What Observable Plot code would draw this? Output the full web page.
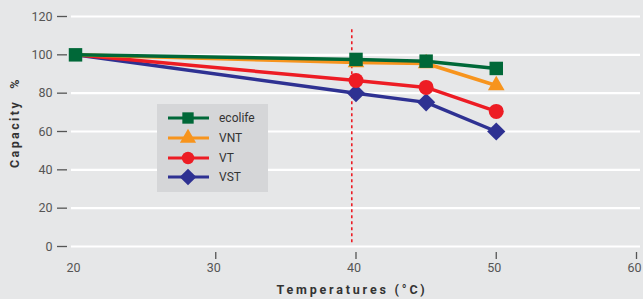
<!DOCTYPE html>
<html><head><meta charset="utf-8">
<script src="https://cdn.jsdelivr.net/npm/d3@7"></script>
<script src="https://cdn.jsdelivr.net/npm/@observablehq/plot@0.6"></script>
<style>
body{margin:0;background:#e6e7e8;}
</style></head><body><div id="chart"></div>
<script>
const temps = [20, 40, 45, 50];
const seriesNames = ["ecolife", "VNT", "VT", "VST"];
const ecolife = [100, 97.6, 96.7, 92.9];
const vnt = [100, 96, 95.5, 84];
const vt = [100, 86.6, 83, 70.5];
const vst = [100, 80, 75.2, 60];
const values = [ecolife, vnt, vt, vst];
const colors = ["#006838", "#f7941d", "#ed1c24", "#2e3192"];
const symbols = ["square", "triangle", "circle", "diamond2"];
const yTicks = [0, 20, 40, 60, 80, 100, 120];
const xTicks = [20, 30, 40, 50, 60];
const xTickMarks = [30, 40, 50, 60];
const markerTemp = 39.7;
const xTitle = "Temperatures (°C)";
const yTitle = "Capacity  %";

const rs = [7.6, 6.2, 7.5, 8.2];
const data = [];
seriesNames.forEach((s, i) => temps.forEach((t, j) => data.push({series: s, t, v: values[i][j]})));

const seriesMarks = [];
for (let i = seriesNames.length - 1; i >= 0; i--) {
  const d = data.filter(e => e.series === seriesNames[i]);
  const dd = i === 0 ? d : d.filter(e => e.t > temps[0]);
  seriesMarks.push(Plot.line(d, {x: "t", y: "v", stroke: colors[i], strokeWidth: 3.5}));
  seriesMarks.push(Plot.dot(dd, {x: "t", y: "v", symbol: () => symbols[i], fill: colors[i], stroke: "none", r: rs[i]}));
}

const plot = Plot.plot({
  width: 643, height: 299,
  marginLeft: 75, marginRight: 7, marginTop: 16, marginBottom: 53,
  style: {background: "#e6e7e8", fontFamily: "Roboto", fontSize: "12.5px", color: "#555"},
  x: {domain: [20, 60], label: null},
  y: {domain: [0, 120], label: null},
  symbol: {type: "identity"},
  marks: [
    Plot.ruleY(yTicks, {stroke: "white", strokeWidth: 2.2, insetLeft: -4, insetRight: -4}),
    Plot.axisY(yTicks, {tickSize: 10, tickPadding: 5, dx: -8, strokeWidth: 1.3, label: null}),
    Plot.axisX(xTickMarks, {tickSize: 7, dy: 6, tickFormat: () => "", strokeWidth: 1.3, label: null}),
    Plot.axisX(xTicks, {tickSize: 0, tickPadding: 17, dx: -2, label: null}),
    Plot.ruleX([markerTemp], {y1: 2, y2: 113.5, stroke: "#ed1c24", strokeWidth: 1.6, strokeDasharray: "3,3"}),
    ...seriesMarks
  ]
});

const svg = d3.select(plot);
const titles = svg.append("g").attr("font-family", "Roboto").attr("font-size", 12.5).attr("font-weight", "bold").attr("fill", "#333");
titles.append("text").attr("x", 352).attr("y", 290).attr("dy", "0.35em")
  .attr("text-anchor", "middle").style("letter-spacing", "2.8px").text(xTitle);
titles.append("text").attr("transform", "translate(15,168) rotate(-90)").attr("dy", "0.35em")
  .attr("text-anchor", "start").style("white-space", "pre").style("letter-spacing", "2.4px").text(yTitle);

// legend
const lg = svg.append("g").attr("font-family", "Roboto").attr("font-size", 12).attr("text-anchor", "start");
lg.append("rect").attr("x", 157).attr("y", 104).attr("width", 111).attr("height", 88).attr("fill", "#d5d6d8");
const rowY = [118, 138, 158, 177];
const d3sym = {square: d3.symbolSquare, triangle: d3.symbolTriangle, circle: d3.symbolCircle, diamond2: d3.symbolDiamond2};
const lr = [6.4, 6, 6.2, 7.5];
seriesNames.forEach((s, i) => {
  const y = rowY[i];
  lg.append("line").attr("x1", 168).attr("x2", 209).attr("y1", y).attr("y2", y).attr("stroke", colors[i]).attr("stroke-width", 3.2);
  lg.append("path").attr("transform", `translate(188,${y})`).attr("d", d3.symbol(d3sym[symbols[i]], lr[i] * lr[i] * Math.PI)()).attr("fill", colors[i]);
  lg.append("text").attr("x", 219).attr("y", y).attr("dy", "0.35em").attr("fill", "#333").text(s);
});

document.getElementById("chart").append(plot);
</script>
</body></html>
